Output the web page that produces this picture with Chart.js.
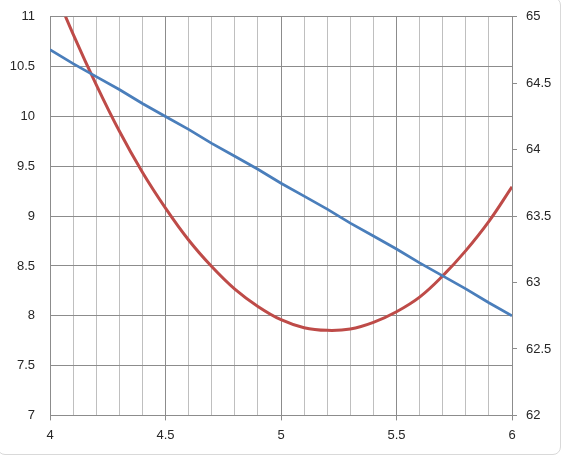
<!DOCTYPE html>
<html>
<head>
<meta charset="utf-8">
<script src="https://cdn.jsdelivr.net/npm/chart.js@4"></script>
<style>
  html, body { margin: 0; padding: 0; background: #fff; overflow: hidden; }
  #frame { position: absolute; left: -3px; top: -3px; width: 564px; height: 458px;
           border: 1px solid #d9d9d9; border-radius: 8px; box-sizing: border-box; }
  #wrap { position: absolute; left: 0; top: -6px; width: 562px; height: 464px; }
</style>
</head>
<body>
<div id="frame"></div>
<div id="wrap"><canvas id="chart"></canvas></div>
<script>
// x values (every 0.1 from 4 to 6)
const xValues = [4.0, 4.1, 4.2, 4.3, 4.4, 4.5, 4.6, 4.7, 4.8, 4.9, 5.0,
                 5.1, 5.2, 5.3, 5.4, 5.5, 5.6, 5.7, 5.8, 5.9, 6.0];
// blue series, left axis
const blueValues = [10.67, 10.53, 10.40, 10.27, 10.13, 10.00, 9.87, 9.73, 9.60, 9.47, 9.33,
                    9.20, 9.07, 8.93, 8.80, 8.67, 8.53, 8.40, 8.27, 8.13, 8.00];
// red series, right axis
const redValues = [65.28, 64.87, 64.49, 64.14, 63.83, 63.56, 63.32, 63.12, 62.95, 62.82, 62.72,
                   62.66, 62.64, 62.65, 62.70, 62.78, 62.89, 63.05, 63.24, 63.46, 63.72];

const leftRange = [7, 11];
const rightRange = [62, 65];
const xRange = [4, 6];

const majorGrid = '#8c8c8c';
const minorGrid = '#bfbfbf';
const textColor = '#262626';

Chart.defaults.font.family = '"Liberation Sans", Arial, sans-serif';
Chart.defaults.font.size = 13;
Chart.defaults.color = textColor;

const isMajor = v => Math.round(v * 10) % 5 === 0;
const fmt = v => String(Math.round(v * 10) / 10);

const ctx = document.getElementById('chart').getContext('2d');
const chart = new Chart(ctx, {
    type: 'scatter',
    data: {
        datasets: [
            {
                label: 'Series 1',
                data: xValues.map((x, i) => ({ x: x, y: blueValues[i] })),
                showLine: true,
                borderColor: '#4a7ebb',
                borderWidth: 2.75,
                pointRadius: 0,
                yAxisID: 'y'
            },
            {
                label: 'Series 2',
                data: xValues.map((x, i) => ({ x: x, y: redValues[i] })),
                showLine: true,
                borderColor: '#be4b48',
                borderWidth: 3,
                pointRadius: 0,
                tension: 0.4,
                yAxisID: 'y1'
            }
        ]
    },
    options: {
        responsive: true,
        maintainAspectRatio: false,
        animation: false,
        layout: { padding: { top: 9, bottom: 8, left: 0, right: 0 } },
        plugins: {
            legend: { display: false },
            tooltip: { enabled: false }
        },
        scales: {
            x: {
                type: 'linear',
                min: xRange[0],
                max: xRange[1],
                ticks: {
                    stepSize: 0.1,
                    autoSkip: false,
                    maxRotation: 0,
                    padding: 7,
                    callback: v => isMajor(v) ? fmt(v) : ''
                },
                grid: {
                    color: c => isMajor(c.tick.value) ? majorGrid : minorGrid,
                    tickColor: c => isMajor(c.tick.value) ? majorGrid : 'rgba(0,0,0,0)',
                    tickLength: 5,
                    lineWidth: 1
                },
                border: { color: majorGrid }
            },
            y: {
                position: 'left',
                min: leftRange[0],
                max: leftRange[1],
                ticks: { stepSize: 0.5, padding: 15, callback: fmt },
                grid: { color: majorGrid, drawTicks: false },
                border: { color: majorGrid },
                afterFit: s => { s.width = 50; }
            },
            y1: {
                position: 'right',
                min: rightRange[0],
                max: rightRange[1],
                ticks: { stepSize: 0.5, padding: 9, callback: fmt },
                grid: { drawOnChartArea: false, color: majorGrid, tickLength: 5 },
                border: { color: majorGrid },
                afterFit: s => { s.width = 50; }
            }
        }
    }
});
</script>
</body>
</html>
